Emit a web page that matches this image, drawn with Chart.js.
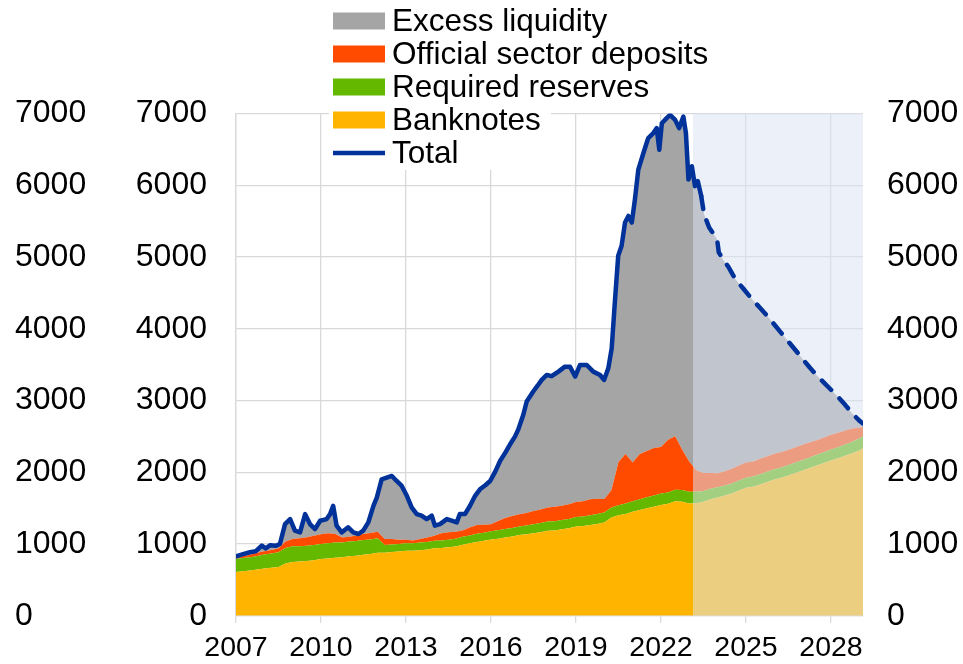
<!DOCTYPE html>
<html>
<head>
<meta charset="utf-8">
<script src="https://cdn.jsdelivr.net/npm/chart.js@4.4.1/dist/chart.umd.min.js"></script>
<style>
html,body{margin:0;padding:0;background:#ffffff;}
canvas{display:block;}
</style>
</head>
<body>
<canvas id="c" width="963" height="664"></canvas>
<script>
// ---------- data (EUR billions) ----------
const seriesLabels = ['Banknotes', 'Required reserves', 'Official sector deposits', 'Excess liquidity', 'Total'];
const seriesColors = ['#ffb400', '#65b800', '#ff4b00', '#a5a5a5', '#003299'];

const componentDates = [
  2007, 2007.25, 2007.5, 2007.75, 2008, 2008.25, 2008.5, 2008.75,
  2009, 2009.25, 2009.5, 2009.75, 2010, 2010.25, 2010.5, 2010.75,
  2011, 2011.25, 2011.5, 2011.75, 2012, 2012.25, 2012.5, 2012.75,
  2013, 2013.25, 2013.5, 2013.75, 2014, 2014.25, 2014.5, 2014.75,
  2015, 2015.25, 2015.5, 2015.75, 2016, 2016.25, 2016.5, 2016.75,
  2017, 2017.25, 2017.5, 2017.75, 2018, 2018.25, 2018.5, 2018.75,
  2019, 2019.25, 2019.5, 2019.75, 2020, 2020.25, 2020.5, 2020.75,
  2021, 2021.25, 2021.5, 2021.75, 2022, 2022.25, 2022.5, 2022.75,
  2023, 2023.25, 2023.5, 2023.75, 2024, 2024.25, 2024.5, 2024.75,
  2025, 2025.25, 2025.5, 2025.75, 2026, 2026.25, 2026.5, 2026.75,
  2027, 2027.25, 2027.5, 2027.75, 2028, 2028.25, 2028.5, 2028.75,
  2029, 2029.13
];
const banknotes = [
  610, 620, 632, 645, 660, 668, 680, 730,
  750, 755, 765, 775, 790, 800, 810, 815,
  830, 838, 850, 860, 880, 880, 890, 895,
  905, 905, 915, 925, 940, 945, 955, 965,
  990, 1010, 1030, 1045, 1065, 1075, 1090, 1105,
  1125, 1135, 1150, 1165, 1185, 1190, 1205, 1220,
  1245, 1250, 1265, 1280, 1300, 1370, 1400, 1420,
  1450, 1475, 1500, 1520, 1545, 1560, 1595, 1590,
  1565, 1570, 1590, 1625, 1650, 1675, 1705, 1745,
  1785, 1800, 1830, 1865, 1900, 1925, 1955, 1990,
  2025, 2060, 2095, 2130, 2165, 2195, 2230, 2265,
  2305, 2335
];
const requiredReserves = [
  185, 185, 185, 190, 195, 200, 205, 215,
  220, 215, 210, 210, 210, 210, 210, 205,
  205, 205, 205, 205, 200, 105, 105, 105,
  105, 105, 105, 105, 105, 105, 105, 110,
  110, 110, 112, 113, 115, 117, 118, 120,
  120, 122, 125, 127, 128, 128, 130, 130,
  132, 133, 135, 137, 138, 140, 142, 145,
  147, 150, 152, 155, 158, 160, 162, 163,
  163, 160, 150, 145, 140, 140, 140, 140,
  140, 140, 142, 142, 143, 143, 145, 145,
  147, 147, 148, 150, 152, 155, 158, 160,
  165, 168
];
const officialDeposits = [
  20, 25, 35, 45, 45, 50, 55, 90,
  100, 110, 120, 130, 135, 140, 120, 70,
  65, 75, 85, 90, 90, 85, 75, 60,
  50, 40, 50, 60, 70, 100, 105, 95,
  90, 110, 125, 110, 95, 130, 155, 165,
  170, 175, 185, 190, 195, 200, 200, 205,
  210, 215, 225, 215, 190, 240, 600, 690,
  540, 630, 645, 665, 650, 735, 745, 560,
  420, 300, 250, 220, 195, 200, 205, 210,
  210, 212, 215, 215, 215, 215, 215, 215,
  210, 210, 205, 205, 205, 200, 195, 185,
  150, 130
];
const totalDates = [
  2007.00, 2007.25, 2007.49, 2007.70, 2007.91, 2008.05, 2008.20, 2008.40, 2008.55, 2008.73,
  2008.91, 2009.08, 2009.26, 2009.44, 2009.61, 2009.79, 2009.97, 2010.20, 2010.32, 2010.43,
  2010.55, 2010.73, 2010.96, 2011.14, 2011.32, 2011.49, 2011.67, 2011.85, 2011.97, 2012.14,
  2012.32, 2012.50, 2012.67, 2012.85, 2013.03, 2013.20, 2013.38, 2013.55, 2013.73, 2013.91,
  2014.02, 2014.20, 2014.44, 2014.61, 2014.79, 2014.90, 2015.08, 2015.26, 2015.44, 2015.61,
  2015.80, 2015.97, 2016.15, 2016.32, 2016.50, 2016.67, 2016.85, 2016.96, 2017.14, 2017.26,
  2017.49, 2017.65, 2017.79, 2017.97, 2018.14, 2018.38, 2018.61, 2018.79, 2018.97, 2019.14,
  2019.38, 2019.61, 2019.85, 2019.99, 2020.14, 2020.26, 2020.38, 2020.49, 2020.61, 2020.73,
  2020.85, 2020.97, 2021.08, 2021.20, 2021.38, 2021.55, 2021.73, 2021.85, 2021.94, 2022.03,
  2022.20, 2022.32, 2022.50, 2022.64, 2022.79, 2022.88, 2022.97, 2023.09, 2023.20, 2023.30,
  2023.42, 2023.52, 2023.70, 2023.98, 2024.04, 2024.20, 2024.39, 2024.62, 2024.91, 2025.20,
  2025.50, 2025.75, 2026.00, 2026.25, 2026.50, 2026.75, 2027.00, 2027.25, 2027.50, 2027.75,
  2028.00, 2028.25, 2028.50, 2028.75, 2029.00, 2029.13
];
const totalValues = [
  830, 860, 886, 900, 979, 940, 983, 975, 1001, 1278,
  1348, 1187, 1163, 1417, 1278, 1209, 1325, 1348, 1417, 1533,
  1256, 1163, 1233, 1163, 1140, 1187, 1302, 1533, 1648, 1902,
  1925, 1949, 1879, 1810, 1672, 1510, 1417, 1395, 1348, 1395,
  1256, 1278, 1348, 1325, 1302, 1417, 1417, 1533, 1672, 1763,
  1820, 1879, 2010, 2157, 2270, 2387, 2500, 2594, 2802, 2987,
  3126, 3210, 3287, 3356, 3340, 3403, 3472, 3472, 3334, 3495,
  3495, 3403, 3356, 3287, 3449, 3726, 4418, 5018, 5157, 5480,
  5572, 5480, 5803, 6219, 6450, 6658, 6727, 6796, 6496, 6865,
  6935, 6980, 6911, 6796, 6957, 6727, 6080, 6265, 5988, 6057,
  5849, 5595, 5411, 5249, 5065, 4960, 4857, 4695, 4557, 4418,
  4290, 4180, 4060, 3940, 3820, 3700, 3580, 3460, 3350, 3250,
  3150, 3050, 2940, 2820, 2720, 2680
];

const xTickYears = [2007, 2010, 2013, 2016, 2019, 2022, 2025, 2028];
const yTickValues = [0, 1000, 2000, 3000, 4000, 5000, 6000, 7000];
const xRange = [2007, 2029.13];
const projectionStart = 2023.13;   // shaded projection period
const dashedFrom = 2023.42;        // total line dashed from here

// ---------- styling ----------
const FONT = "'Liberation Sans', Arial, Helvetica, sans-serif";
const xFont = { family: FONT, size: 28.5 };
const yFont = { family: FONT, size: 32 };
const legendFontSize = 31.5;
const gridColor = '#d9d9d9';

const toPoints = (xs, ys) => xs.map((x, i) => ({ x: x, y: ys[i] }));

const projectionShade = {
  id: 'projectionShade',
  beforeDatasetDraw(chart, args) {
    if (args.index !== 4) return;
    const { ctx, chartArea, scales } = chart;
    const x0 = scales.x.getPixelForValue(projectionStart);
    ctx.save();
    ctx.fillStyle = 'rgba(220,229,243,0.53)';
    ctx.fillRect(x0, chartArea.top, chartArea.right - x0, chartArea.bottom - chartArea.top);
    ctx.restore();
  }
};

const boxLegend = {
  id: 'boxLegend',
  afterDraw(chart) {
    const ctx = chart.ctx;
    const ds = chart.data.datasets;
    const order = [3, 2, 1, 0, 4];
    const x0 = 333, boxW = 52, boxH = 17, textX = 392, rowY0 = 21, rowStep = 33;
    ctx.save();
    ctx.fillStyle = '#ffffff';
    ctx.fillRect(329, 0, 222, 170);
    ctx.font = legendFontSize + 'px ' + FONT;
    ctx.textBaseline = 'middle';
    ctx.textAlign = 'left';
    order.forEach((di, r) => {
      const d = ds[di];
      const cy = rowY0 + r * rowStep;
      if (di === 4) {
        ctx.strokeStyle = d.borderColor;
        ctx.lineWidth = 4.5;
        ctx.beginPath();
        ctx.moveTo(x0, cy);
        ctx.lineTo(x0 + boxW, cy);
        ctx.stroke();
      } else {
        ctx.fillStyle = d.backgroundColor;
        ctx.fillRect(x0, cy - boxH / 2, boxW, boxH);
      }
      ctx.fillStyle = '#000000';
      ctx.fillText(d.label, textX, cy + 1);
    });
    ctx.restore();
  }
};

const areaBase = { borderWidth: 0, borderColor: 'transparent', pointRadius: 0, tension: 0, yAxisID: 'y', order: 1 };

new Chart(document.getElementById('c'), {
  type: 'line',
  data: {
    datasets: [
      Object.assign({}, areaBase, { label: seriesLabels[0], data: toPoints(componentDates, banknotes), backgroundColor: seriesColors[0], fill: 'origin', stack: 'components' }),
      Object.assign({}, areaBase, { label: seriesLabels[1], data: toPoints(componentDates, requiredReserves), backgroundColor: seriesColors[1], fill: '-1', stack: 'components' }),
      Object.assign({}, areaBase, { label: seriesLabels[2], data: toPoints(componentDates, officialDeposits), backgroundColor: seriesColors[2], fill: '-1', stack: 'components' }),
      Object.assign({}, areaBase, { label: seriesLabels[3], data: toPoints(totalDates, totalValues), backgroundColor: seriesColors[3], fill: 2, stack: 'excess' }),
      {
        label: seriesLabels[4], data: toPoints(totalDates, totalValues), yAxisID: 'y', stack: 'total', order: 0,
        borderColor: seriesColors[4], backgroundColor: seriesColors[4], borderWidth: 4.5, fill: false,
        pointRadius: 0, tension: 0, borderJoinStyle: 'round', borderCapStyle: 'round',
        segment: { borderDash: (ctx) => (ctx.p0.parsed.x >= dashedFrom - 1e-6 ? [13, 12] : undefined) }
      }
    ]
  },
  options: {
    responsive: false,
    animation: false,
    devicePixelRatio: 1,
    layout: { padding: { left: 15, right: 0, top: 113.5, bottom: 0 } },
    plugins: { legend: { display: false }, tooltip: { enabled: false } },
    scales: {
      x: {
        type: 'linear', min: xRange[0], max: xRange[1],
        afterBuildTicks: (s) => { s.ticks = xTickYears.map(v => ({ value: v })); },
        afterFit: (s) => { s.height = 45; },
        ticks: { callback: (v) => String(v), font: xFont, color: '#000000', padding: 8, maxRotation: 0, autoSkip: false },
        grid: { color: gridColor, lineWidth: 1.3, drawTicks: true, tickLength: 7, tickColor: gridColor },
        border: { color: gridColor, width: 1.3 }
      },
      yOuter: {
        position: 'left', weight: 1, min: 0, max: 7000,
        afterBuildTicks: (s) => { s.ticks = yTickValues.map(v => ({ value: v })); },
        afterFit: (s) => { s.width = 100; },
        ticks: { font: yFont, color: '#000000', crossAlign: 'far', padding: 0, callback: (v) => String(v) },
        grid: { display: false, drawTicks: false }, border: { display: false }
      },
      y: {
        position: 'left', weight: 0, min: 0, max: 7000, stacked: true,
        afterBuildTicks: (s) => { s.ticks = yTickValues.map(v => ({ value: v })); },
        afterFit: (s) => { s.width = 121; },
        ticks: { font: yFont, color: '#000000', padding: 29, callback: (v) => String(v) },
        grid: { color: gridColor, lineWidth: 1.3, drawTicks: false },
        border: { color: gridColor, width: 1.3 }
      },
      yRight: {
        position: 'right', min: 0, max: 7000,
        afterBuildTicks: (s) => { s.ticks = yTickValues.map(v => ({ value: v })); },
        afterFit: (s) => { s.width = 100; },
        ticks: { font: yFont, color: '#000000', padding: 24, callback: (v) => String(v) },
        grid: { display: false, drawTicks: false }, border: { display: false }
      }
    }
  },
  plugins: [projectionShade, boxLegend]
});
</script>
</body>
</html>
